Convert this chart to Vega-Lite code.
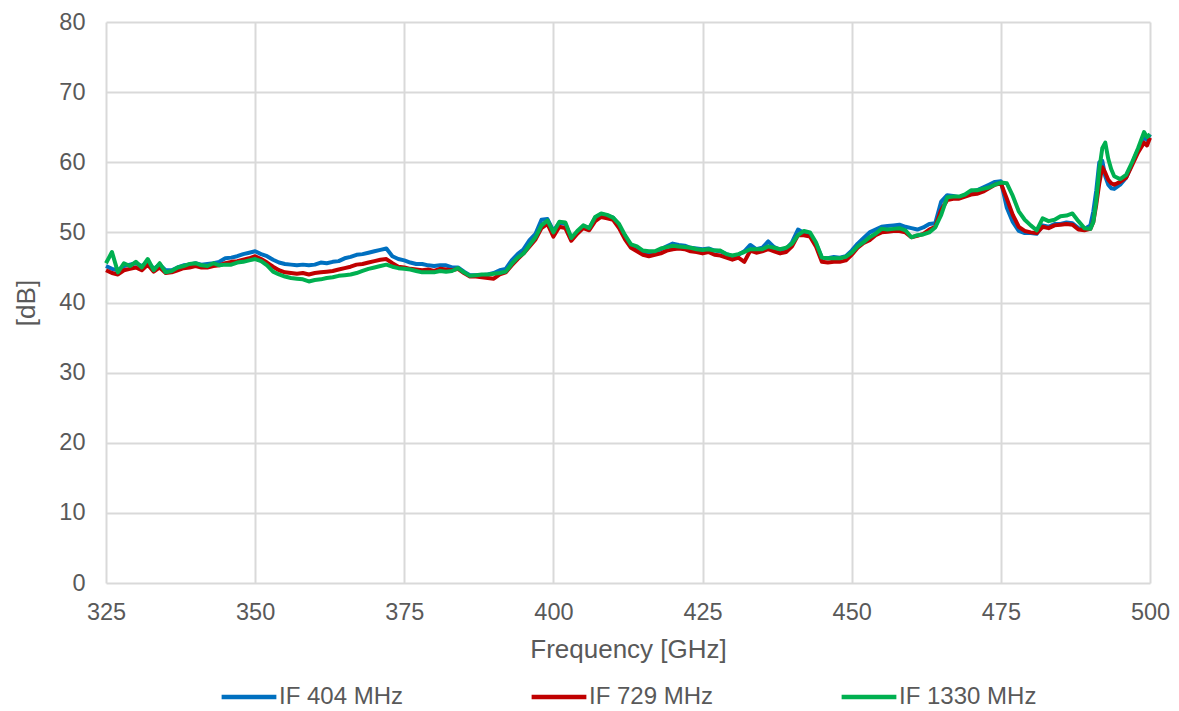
{
  "$schema": "https://vega.github.io/schema/vega-lite/v6.json",
  "width": 1044,
  "height": 561,
  "autosize": {"type": "none"},
  "padding": {"left": 106, "top": 22, "right": 29, "bottom": 128},
  "background": "white",
  "config": {"view": {"stroke": null}, "font": "Liberation Sans", "legend": {"layout": {"anchor": "middle"}}},
  "data": {"values": [
    {"f":325,"b":45.2,"r":44.6,"g":45.6},
    {"f":326,"b":44.8,"r":44.2,"g":47.2},
    {"f":327,"b":44.6,"r":44.0,"g":44.3},
    {"f":328,"b":45.2,"r":44.6,"g":45.6},
    {"f":329,"b":45.4,"r":44.8,"g":45.2},
    {"f":330,"b":45.6,"r":45.0,"g":45.8},
    {"f":331,"b":45.2,"r":44.6,"g":45.0},
    {"f":332,"b":45.8,"r":45.4,"g":46.2},
    {"f":333,"b":44.8,"r":44.4,"g":44.6},
    {"f":334,"b":45.4,"r":45.0,"g":45.6},
    {"f":335,"b":44.6,"r":44.2,"g":44.3},
    {"f":336,"b":44.6,"r":44.3,"g":44.5},
    {"f":337,"b":45.0,"r":44.6,"g":45.0},
    {"f":338,"b":45.3,"r":44.9,"g":45.2},
    {"f":339,"b":45.4,"r":45.0,"g":45.5},
    {"f":340,"b":45.6,"r":45.2,"g":45.6},
    {"f":341,"b":45.4,"r":45.0,"g":45.3},
    {"f":342,"b":45.5,"r":45.0,"g":45.2},
    {"f":343,"b":45.6,"r":45.2,"g":45.6},
    {"f":344,"b":45.8,"r":45.3,"g":45.3},
    {"f":345,"b":46.3,"r":45.6,"g":45.4},
    {"f":346,"b":46.4,"r":45.8,"g":45.4},
    {"f":347,"b":46.6,"r":45.9,"g":45.7},
    {"f":348,"b":46.9,"r":46.1,"g":45.8},
    {"f":349,"b":47.1,"r":46.3,"g":46.0},
    {"f":350,"b":47.3,"r":46.6,"g":46.2},
    {"f":351,"b":46.9,"r":46.2,"g":45.9},
    {"f":352,"b":46.6,"r":45.7,"g":45.3},
    {"f":353,"b":46.1,"r":45.1,"g":44.4},
    {"f":354,"b":45.7,"r":44.6,"g":44.0},
    {"f":355,"b":45.5,"r":44.3,"g":43.7},
    {"f":356,"b":45.4,"r":44.2,"g":43.5},
    {"f":357,"b":45.3,"r":44.1,"g":43.4},
    {"f":358,"b":45.4,"r":44.2,"g":43.3},
    {"f":359,"b":45.3,"r":44.0,"g":43.0},
    {"f":360,"b":45.4,"r":44.2,"g":43.2},
    {"f":361,"b":45.7,"r":44.3,"g":43.3},
    {"f":362,"b":45.6,"r":44.4,"g":43.5},
    {"f":363,"b":45.8,"r":44.5,"g":43.6},
    {"f":364,"b":45.9,"r":44.7,"g":43.8},
    {"f":365,"b":46.3,"r":44.9,"g":43.9},
    {"f":366,"b":46.5,"r":45.1,"g":44.0},
    {"f":367,"b":46.8,"r":45.4,"g":44.2},
    {"f":368,"b":46.9,"r":45.5,"g":44.5},
    {"f":369,"b":47.1,"r":45.7,"g":44.8},
    {"f":370,"b":47.3,"r":45.9,"g":45.0},
    {"f":371,"b":47.5,"r":46.1,"g":45.2},
    {"f":372,"b":47.7,"r":46.2,"g":45.4},
    {"f":373,"b":46.6,"r":45.6,"g":45.1},
    {"f":374,"b":46.2,"r":45.1,"g":44.9},
    {"f":375,"b":46.0,"r":45.0,"g":44.8},
    {"f":376,"b":45.7,"r":44.8,"g":44.7},
    {"f":377,"b":45.5,"r":44.7,"g":44.5},
    {"f":378,"b":45.5,"r":44.6,"g":44.3},
    {"f":379,"b":45.3,"r":44.7,"g":44.3},
    {"f":380,"b":45.2,"r":44.5,"g":44.3},
    {"f":381,"b":45.3,"r":44.8,"g":44.5},
    {"f":382,"b":45.3,"r":44.7,"g":44.4},
    {"f":383,"b":45.0,"r":44.6,"g":44.5},
    {"f":384,"b":45.0,"r":44.8,"g":44.9},
    {"f":385,"b":44.4,"r":44.2,"g":44.3},
    {"f":386,"b":43.9,"r":43.7,"g":43.8},
    {"f":387,"b":43.9,"r":43.7,"g":43.9},
    {"f":388,"b":43.9,"r":43.6,"g":44.0},
    {"f":389,"b":44.0,"r":43.5,"g":44.0},
    {"f":390,"b":44.2,"r":43.4,"g":44.1},
    {"f":391,"b":44.6,"r":44.0,"g":44.2},
    {"f":392,"b":44.8,"r":44.3,"g":44.4},
    {"f":393,"b":46.0,"r":45.3,"g":45.5},
    {"f":394,"b":46.9,"r":46.2,"g":46.4},
    {"f":395,"b":47.6,"r":47.0,"g":47.0},
    {"f":396,"b":48.9,"r":48.0,"g":48.2},
    {"f":397,"b":49.8,"r":49.0,"g":49.3},
    {"f":398,"b":51.8,"r":50.6,"g":51.0},
    {"f":399,"b":51.9,"r":51.2,"g":51.7},
    {"f":400,"b":50.2,"r":49.4,"g":50.0},
    {"f":401,"b":51.4,"r":50.8,"g":51.5},
    {"f":402,"b":51.2,"r":50.6,"g":51.4},
    {"f":403,"b":49.2,"r":48.8,"g":49.2},
    {"f":404,"b":50.0,"r":49.8,"g":50.2},
    {"f":405,"b":50.9,"r":50.6,"g":51.0},
    {"f":406,"b":50.6,"r":50.3,"g":50.6},
    {"f":407,"b":52.1,"r":51.6,"g":52.2},
    {"f":408,"b":52.6,"r":52.2,"g":52.7},
    {"f":409,"b":52.4,"r":52.0,"g":52.5},
    {"f":410,"b":52.1,"r":51.8,"g":52.1},
    {"f":411,"b":51.0,"r":50.6,"g":51.2},
    {"f":412,"b":49.3,"r":49.0,"g":49.6},
    {"f":413,"b":48.1,"r":47.8,"g":48.3},
    {"f":414,"b":47.8,"r":47.3,"g":48.0},
    {"f":415,"b":47.3,"r":46.8,"g":47.4},
    {"f":416,"b":47.1,"r":46.6,"g":47.3},
    {"f":417,"b":47.2,"r":46.8,"g":47.3},
    {"f":418,"b":47.6,"r":47.0,"g":47.7},
    {"f":419,"b":48.0,"r":47.4,"g":47.9},
    {"f":420,"b":48.4,"r":47.6,"g":48.1},
    {"f":421,"b":48.2,"r":47.7,"g":48.0},
    {"f":422,"b":48.1,"r":47.6,"g":47.9},
    {"f":423,"b":47.8,"r":47.3,"g":47.8},
    {"f":424,"b":47.7,"r":47.2,"g":47.6},
    {"f":425,"b":47.6,"r":47.0,"g":47.5},
    {"f":426,"b":47.7,"r":47.2,"g":47.6},
    {"f":427,"b":47.4,"r":46.8,"g":47.4},
    {"f":428,"b":47.3,"r":46.7,"g":47.4},
    {"f":429,"b":46.9,"r":46.4,"g":46.9},
    {"f":430,"b":46.6,"r":46.1,"g":46.7},
    {"f":431,"b":46.8,"r":46.4,"g":46.9},
    {"f":432,"b":47.3,"r":45.8,"g":47.2},
    {"f":433,"b":48.2,"r":47.4,"g":47.6},
    {"f":434,"b":47.6,"r":47.1,"g":47.6},
    {"f":435,"b":47.8,"r":47.3,"g":47.6},
    {"f":436,"b":48.7,"r":47.6,"g":48.0},
    {"f":437,"b":47.9,"r":47.3,"g":47.8},
    {"f":438,"b":47.5,"r":47.0,"g":47.6},
    {"f":439,"b":47.6,"r":47.2,"g":47.8},
    {"f":440,"b":48.6,"r":48.0,"g":48.4},
    {"f":441,"b":50.4,"r":49.6,"g":49.6},
    {"f":442,"b":49.9,"r":49.6,"g":50.2},
    {"f":443,"b":49.6,"r":49.4,"g":50.0},
    {"f":444,"b":48.4,"r":48.0,"g":48.6},
    {"f":445,"b":46.4,"r":45.8,"g":46.4},
    {"f":446,"b":46.3,"r":45.7,"g":46.3},
    {"f":447,"b":46.5,"r":45.8,"g":46.3},
    {"f":448,"b":46.4,"r":45.8,"g":46.3},
    {"f":449,"b":46.6,"r":46.0,"g":46.5},
    {"f":450,"b":47.4,"r":46.8,"g":47.1},
    {"f":451,"b":48.4,"r":47.8,"g":48.0},
    {"f":452,"b":49.2,"r":48.5,"g":48.6},
    {"f":453,"b":50.0,"r":48.9,"g":49.3},
    {"f":454,"b":50.4,"r":49.6,"g":49.8},
    {"f":455,"b":50.8,"r":50.0,"g":50.5},
    {"f":456,"b":50.9,"r":50.1,"g":50.4},
    {"f":457,"b":51.0,"r":50.2,"g":50.5},
    {"f":458,"b":51.1,"r":50.2,"g":50.6},
    {"f":459,"b":50.8,"r":50.0,"g":50.3},
    {"f":460,"b":50.6,"r":49.3,"g":49.3},
    {"f":461,"b":50.4,"r":49.5,"g":49.6},
    {"f":462,"b":50.7,"r":49.8,"g":49.7},
    {"f":463,"b":51.2,"r":50.4,"g":50.0},
    {"f":464,"b":51.3,"r":50.8,"g":50.7},
    {"f":465,"b":54.4,"r":53.2,"g":52.5},
    {"f":466,"b":55.3,"r":54.6,"g":55.0},
    {"f":467,"b":55.2,"r":54.8,"g":55.1},
    {"f":468,"b":55.0,"r":54.8,"g":55.1},
    {"f":469,"b":55.3,"r":55.1,"g":55.4},
    {"f":470,"b":55.8,"r":55.4,"g":56.0},
    {"f":471,"b":56.0,"r":55.5,"g":56.0},
    {"f":472,"b":56.4,"r":55.8,"g":56.2},
    {"f":473,"b":56.8,"r":56.3,"g":56.4},
    {"f":474,"b":57.2,"r":56.8,"g":56.8},
    {"f":475,"b":57.3,"r":57.0,"g":57.1},
    {"f":476,"b":53.5,"r":54.8,"g":57.0},
    {"f":477,"b":51.5,"r":52.5,"g":55.2},
    {"f":478,"b":50.2,"r":50.8,"g":53.0},
    {"f":479,"b":49.9,"r":50.2,"g":51.8},
    {"f":480,"b":49.9,"r":50.0,"g":51.0},
    {"f":481,"b":49.8,"r":49.9,"g":50.3},
    {"f":482,"b":51.0,"r":50.8,"g":52.0},
    {"f":483,"b":50.8,"r":50.6,"g":51.6},
    {"f":484,"b":51.2,"r":51.0,"g":51.8},
    {"f":485,"b":51.2,"r":51.1,"g":52.3},
    {"f":486,"b":51.4,"r":51.2,"g":52.4},
    {"f":487,"b":51.3,"r":51.1,"g":52.7},
    {"f":488,"b":50.6,"r":50.4,"g":51.6},
    {"f":489,"b":50.5,"r":50.3,"g":50.6},
    {"f":490,"b":51.0,"r":50.5,"g":50.5},
    {"f":490.5,"b":53.0,"r":51.5,"g":51.5},
    {"f":491,"b":56.0,"r":54.0,"g":54.5},
    {"f":491.5,"b":60.0,"r":57.0,"g":59.0},
    {"f":492,"b":60.2,"r":59.3,"g":62.0},
    {"f":492.5,"b":58.0,"r":58.5,"g":62.8},
    {"f":493,"b":56.8,"r":57.5,"g":60.5},
    {"f":493.5,"b":56.3,"r":57.0,"g":59.0},
    {"f":494,"b":56.2,"r":56.8,"g":58.0},
    {"f":495,"b":56.8,"r":57.2,"g":57.6},
    {"f":496,"b":57.8,"r":57.8,"g":58.2},
    {"f":497,"b":59.8,"r":59.6,"g":60.0},
    {"f":498,"b":61.8,"r":61.4,"g":62.0},
    {"f":499,"b":63.6,"r":62.8,"g":64.3},
    {"f":499.5,"b":63.2,"r":62.4,"g":63.6},
    {"f":500,"b":64.0,"r":63.5,"g":64.0}
  ]},
  "transform": [{"fold": ["b", "r", "g"], "as": ["s", "v"]}],
  "mark": {"type": "line", "strokeWidth": 4, "strokeJoin": "round"},
  "encoding": {
    "x": {
      "field": "f", "type": "quantitative",
      "scale": {"domain": [325, 500], "nice": false, "zero": false},
      "axis": {
        "values": [325, 350, 375, 400, 425, 450, 475, 500],
        "title": "Frequency [GHz]",
        "grid": true, "gridColor": "#d9d9d9", "gridWidth": 2,
        "domain": false, "ticks": false,
        "labelFlush": false, "labelOverlap": false,
        "labelFontSize": 23.5, "labelColor": "#595959", "labelPadding": 17,
        "titleFontSize": 26, "titleFontWeight": "normal", "titleColor": "#595959", "titlePadding": 13
      }
    },
    "y": {
      "field": "v", "type": "quantitative",
      "scale": {"domain": [0, 80], "nice": false},
      "axis": {
        "values": [0, 10, 20, 30, 40, 50, 60, 70, 80],
        "title": "[dB]",
        "grid": true, "gridColor": "#d9d9d9", "gridWidth": 2,
        "domain": false, "ticks": false,
        "labelFlush": false, "labelOverlap": false,
        "labelFontSize": 23.5, "labelColor": "#595959", "labelPadding": 21,
        "titleFontSize": 26, "titleFontWeight": "normal", "titleColor": "#595959", "titlePadding": 19
      }
    },
    "color": {
      "field": "s", "type": "nominal",
      "scale": {"domain": ["b", "r", "g"], "range": ["#0070C0", "#C00000", "#00B050"]},
      "legend": {
        "orient": "bottom", "direction": "horizontal", "title": null,
        "symbolType": "stroke", "symbolStrokeWidth": 4.5, "symbolSize": 3000,
        "labelFontSize": 24, "labelColor": "#595959", "labelOffset": 0,
        "columnPadding": 118, "offset": 4,
        "labelExpr": "datum.label == 'b' ? 'IF 404 MHz' : datum.label == 'r' ? 'IF 729 MHz' : 'IF 1330 MHz'"
      }
    }
  }
}
